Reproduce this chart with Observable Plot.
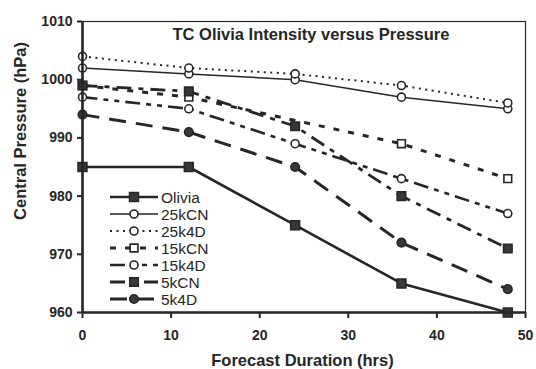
<!DOCTYPE html>
<html>
<head>
<meta charset="utf-8">
<script src="https://cdn.jsdelivr.net/npm/d3@7"></script>
<script src="https://cdn.jsdelivr.net/npm/@observablehq/plot@0.6"></script>
<style>
  html, body { margin: 0; padding: 0; background: #fff; }
  #chart { width: 536px; height: 369px; }
</style>
</head>
<body>
<div id="chart"></div>
<script>
// ---- data ----
const hours = [0, 12, 24, 36, 48];
const seriesNames = ["Olivia", "25kCN", "25k4D", "15kCN", "15k4D", "5kCN", "5k4D"];
const olivia = [985, 985, 975, 965, 960];
const k25CN  = [1002, 1001, 1000, 997, 995];
const k25_4D = [1004, 1002, 1001, 999, 996];
const k15CN  = [999, 997, null, 989, 983];
const k15_4D = [997, 995, 989, 983, 977];
const k5CN   = [999, 998, 992, 980, 971];
const k5_4D  = [994, 991, 985, 972, 964];
const xTicks = [0, 10, 20, 30, 40, 50];
const yTicks = [960, 970, 980, 990, 1000, 1010];
const titleText = "TC Olivia Intensity versus Pressure";
const xLabel = "Forecast Duration (hrs)";
const yLabel = "Central Pressure (hPa)";

const seriesValues = [olivia, k25CN, k25_4D, k15CN, k15_4D, k5CN, k5_4D];

// ---- styles (not data) ----
const ink = "#262626";
const styles = {
  "Olivia": {w: 2.6, dash: null,               symbol: "square", r: 5.0, fill: "#383838"},
  "25kCN":  {w: 1.5, dash: null,               symbol: "circle", r: 4.0, fill: "white"},
  "25k4D":  {w: 2.0, dash: "2,4.5",            symbol: "circle", r: 4.0, fill: "white"},
  "15kCN":  {w: 3.0, dash: "6,9",              symbol: "square", r: 4.4, fill: "white"},
  "15k4D":  {w: 2.6, dash: "15,6,5,6,5,6",     symbol: "circle", r: 4.0, fill: "white"},
  "5kCN":   {w: 2.8, dash: "15,7,5,7",         symbol: "square", r: 4.8, fill: "#383838"},
  "5k4D":   {w: 3.0, dash: "17,10",            symbol: "circle", r: 4.3, fill: "#383838"}
};

const rows = [];
seriesNames.forEach((name, i) => {
  seriesValues[i].forEach((v, j) => {
    if (v != null) rows.push({name, hour: hours[j], p: v});
  });
});

const seriesMarks = [];
seriesNames.forEach(name => {
  const s = styles[name];
  const d = rows.filter(r => r.name === name);
  seriesMarks.push(Plot.line(d, {x: "hour", y: "p", stroke: ink, strokeWidth: s.w,
    strokeDasharray: s.dash || undefined, strokeLinecap: "butt", strokeLinejoin: "round"}));
});
seriesNames.forEach(name => {
  const s = styles[name];
  const d = rows.filter(r => r.name === name);
  seriesMarks.push(Plot.dot(d, {x: "hour", y: "p", symbol: s.symbol, r: s.r,
    fill: s.fill, stroke: ink, strokeWidth: 1.6}));
});

const chart = Plot.plot({
  width: 536,
  height: 369,
  marginLeft: 82,
  marginRight: 11,
  marginTop: 21,
  marginBottom: 57,
  style: {fontFamily: "'Liberation Sans', Arial, Helvetica, sans-serif", background: "white", color: ink, overflow: "visible"},
  x: {domain: [0, 50]},
  y: {domain: [960, 1010]},
  marks: [
    Plot.frame({stroke: ink, strokeWidth: 1.2}),
    ...seriesMarks,
    Plot.ruleX([0], {stroke: ink, strokeWidth: 2.6}),
    Plot.ruleY([960], {stroke: ink, strokeWidth: 2.6}),
    Plot.axisX({ticks: xTicks, tickSize: 6, tickPadding: 12, fontSize: 14, fontWeight: "bold",
      label: null, stroke: ink, strokeWidth: 2, tickFormat: d3.format("d")}),
    Plot.axisY({ticks: yTicks, tickSize: 5, tickPadding: 5, fontSize: 14, fontWeight: "bold",
      label: null, stroke: ink, strokeWidth: 2, tickFormat: d3.format("d")})
  ]
});

document.getElementById("chart").appendChild(chart);

// ---- titles and legend added into the same SVG ----
const svg = d3.select(chart);
const ff = "'Liberation Sans', Arial, Helvetica, sans-serif";

svg.append("text").attr("x", 311).attr("y", 40).attr("text-anchor", "middle")
  .attr("font-family", ff).attr("font-size", 16.5).attr("font-weight", "bold").attr("fill", ink)
  .text(titleText);

svg.append("text").attr("x", 302.5).attr("y", 366).attr("text-anchor", "middle")
  .attr("font-family", ff).attr("font-size", 16.5).attr("font-weight", "bold").attr("fill", ink)
  .text(xLabel);

svg.append("text").attr("transform", "translate(26,131) rotate(-90)").attr("text-anchor", "middle")
  .attr("font-family", ff).attr("font-size", 16.5).attr("font-weight", "bold").attr("fill", ink)
  .text(yLabel);

const legend = svg.append("g").attr("text-anchor", "start");
seriesNames.forEach((name, i) => {
  const s = styles[name];
  const y = 197 + i * 17;
  legend.append("line").attr("x1", 110).attr("x2", 158).attr("y1", y).attr("y2", y)
    .attr("stroke", ink).attr("stroke-width", s.w)
    .attr("stroke-dasharray", s.dash ? s.dash : null);
  const sym = s.symbol === "square" ? d3.symbolSquare : d3.symbolCircle;
  legend.append("path").attr("transform", `translate(134,${y})`)
    .attr("d", d3.symbol(sym, Math.PI * s.r * s.r)())
    .attr("fill", s.fill).attr("stroke", ink).attr("stroke-width", 1.6);
  legend.append("text").attr("x", 161).attr("y", y).attr("dy", "0.36em")
    .attr("text-anchor", "start")
    .attr("font-family", ff).attr("font-size", 15.5).attr("fill", ink)
    .text(name);
});
</script>
</body>
</html>
